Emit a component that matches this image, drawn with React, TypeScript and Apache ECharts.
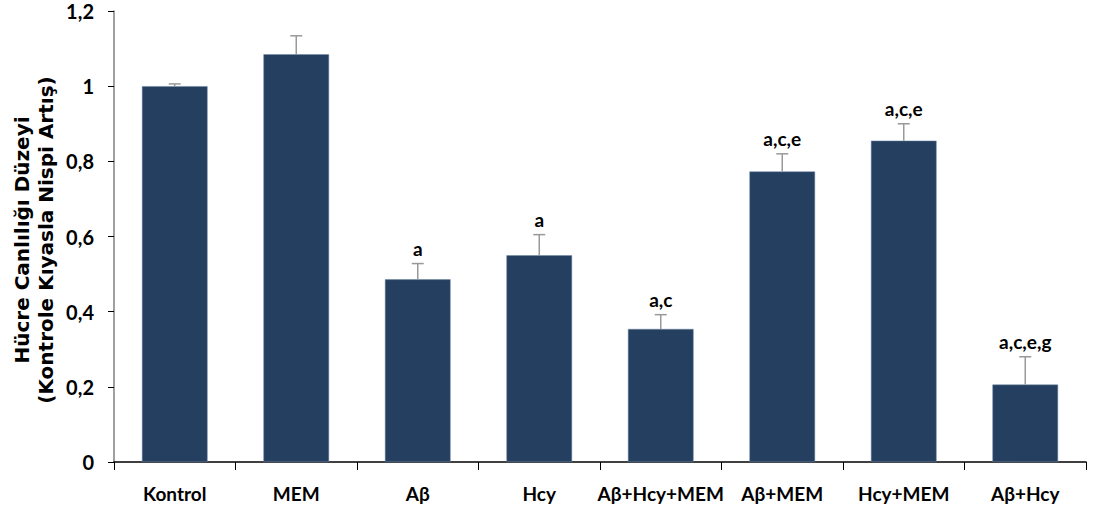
import React, { useEffect, useRef } from "react";
import * as echarts from "echarts";

const categories = ["Kontrol", "MEM", "Aβ", "Hcy", "Aβ+Hcy+MEM", "Aβ+MEM", "Hcy+MEM", "Aβ+Hcy"];
const values = [1.0, 1.085, 0.486, 0.55, 0.354, 0.773, 0.855, 0.206];
const errors = [0.006, 0.049, 0.042, 0.055, 0.038, 0.047, 0.045, 0.074];
const sigLabels = ["", "", "a", "a", "a,c", "a,c,e", "a,c,e", "a,c,e,g"];
const yTicks = { min: 0, max: 1.2, interval: 0.2 };

const FONT = "Lato, 'Open Sans', sans-serif";
const TITLE_FONT = "'DejaVu Sans', Verdana, sans-serif";

export default function App() {
  const ref = useRef<HTMLDivElement>(null);
  useEffect(() => {
    if (!ref.current) return;
    const chart = echarts.init(ref.current, undefined, { renderer: "svg" });
    const errData = values.map((v, i) => [i, v, v + errors[i]]);
    chart.setOption({
      animation: false,
      grid: { left: 114, right: 7, top: 11, bottom: 53, containLabel: false },
      xAxis: {
        type: "category",
        data: categories,
        boundaryGap: true,
        axisLine: { lineStyle: { color: "#000", width: 1.5 } },
        axisTick: { show: true, alignWithLabel: false, interval: 0, length: 8, lineStyle: { color: "#000" } },
        axisLabel: { interval: 0, color: "#000", fontFamily: FONT, fontWeight: "bold", fontSize: 19, margin: 22 },
      },
      yAxis: {
        type: "value",
        min: yTicks.min,
        max: yTicks.max,
        interval: yTicks.interval,
        splitLine: { show: false },
        axisLine: { show: true, lineStyle: { color: "#808080", width: 1.5 } },
        axisTick: { show: true, length: 6, lineStyle: { color: "#000" } },
        axisLabel: {
          color: "#000",
          fontFamily: FONT,
          fontWeight: "bold",
          fontSize: 20,
          lineHeight: 16,
          margin: 20,
          formatter: (v: number) => String(Math.round(v * 10) / 10).replace(".", ","),
        },
      },
      graphic: [
        {
          type: "text",
          x: 34,
          y: 240,
          rotation: Math.PI / 2,
          style: {
            text: "Hücre Canlılığı Düzeyi\n(Kontrole Kıyasla Nispi Artış)",
            fill: "#000",
            font: `bold 20px ${TITLE_FONT}`,
            align: "center",
            verticalAlign: "middle",
            lineHeight: 24,
          },
        },
      ],
      series: [
        {
          type: "bar",
          data: values,
          barWidth: "54%",
          itemStyle: { color: "#243F60", borderColor: "#6f86a6", borderWidth: 0.5 },
          z: 2,
        },
        {
          type: "custom",
          data: errData,
          z: 3,
          renderItem: (params: any, api: any) => {
            const i = api.value(0);
            const top = api.coord([i, api.value(2)]);
            const base = api.coord([i, api.value(1)]);
            const label = sigLabels[params.dataIndex];
            const cap = 6;
            const children: any[] = [
              {
                type: "line",
                shape: { x1: top[0], y1: top[1], x2: base[0], y2: base[1] },
                style: { stroke: "#999", lineWidth: 1.5 },
              },
              {
                type: "line",
                shape: { x1: top[0] - cap, y1: top[1], x2: top[0] + cap, y2: top[1] },
                style: { stroke: "#999", lineWidth: 1.5 },
              },
            ];
            if (label) {
              children.push({
                type: "text",
                x: top[0],
                y: top[1] - 6,
                style: {
                  text: label,
                  fill: "#000",
                  font: `bold 19px ${FONT}`,
                  align: "center",
                  verticalAlign: "bottom",
                },
              });
            }
            return { type: "group", children };
          },
        },
      ],
    });
    return () => chart.dispose();
  }, []);
  return <div ref={ref} style={{ width: 1093, height: 515, position: "absolute", left: 0, top: 0 }} />;
}
